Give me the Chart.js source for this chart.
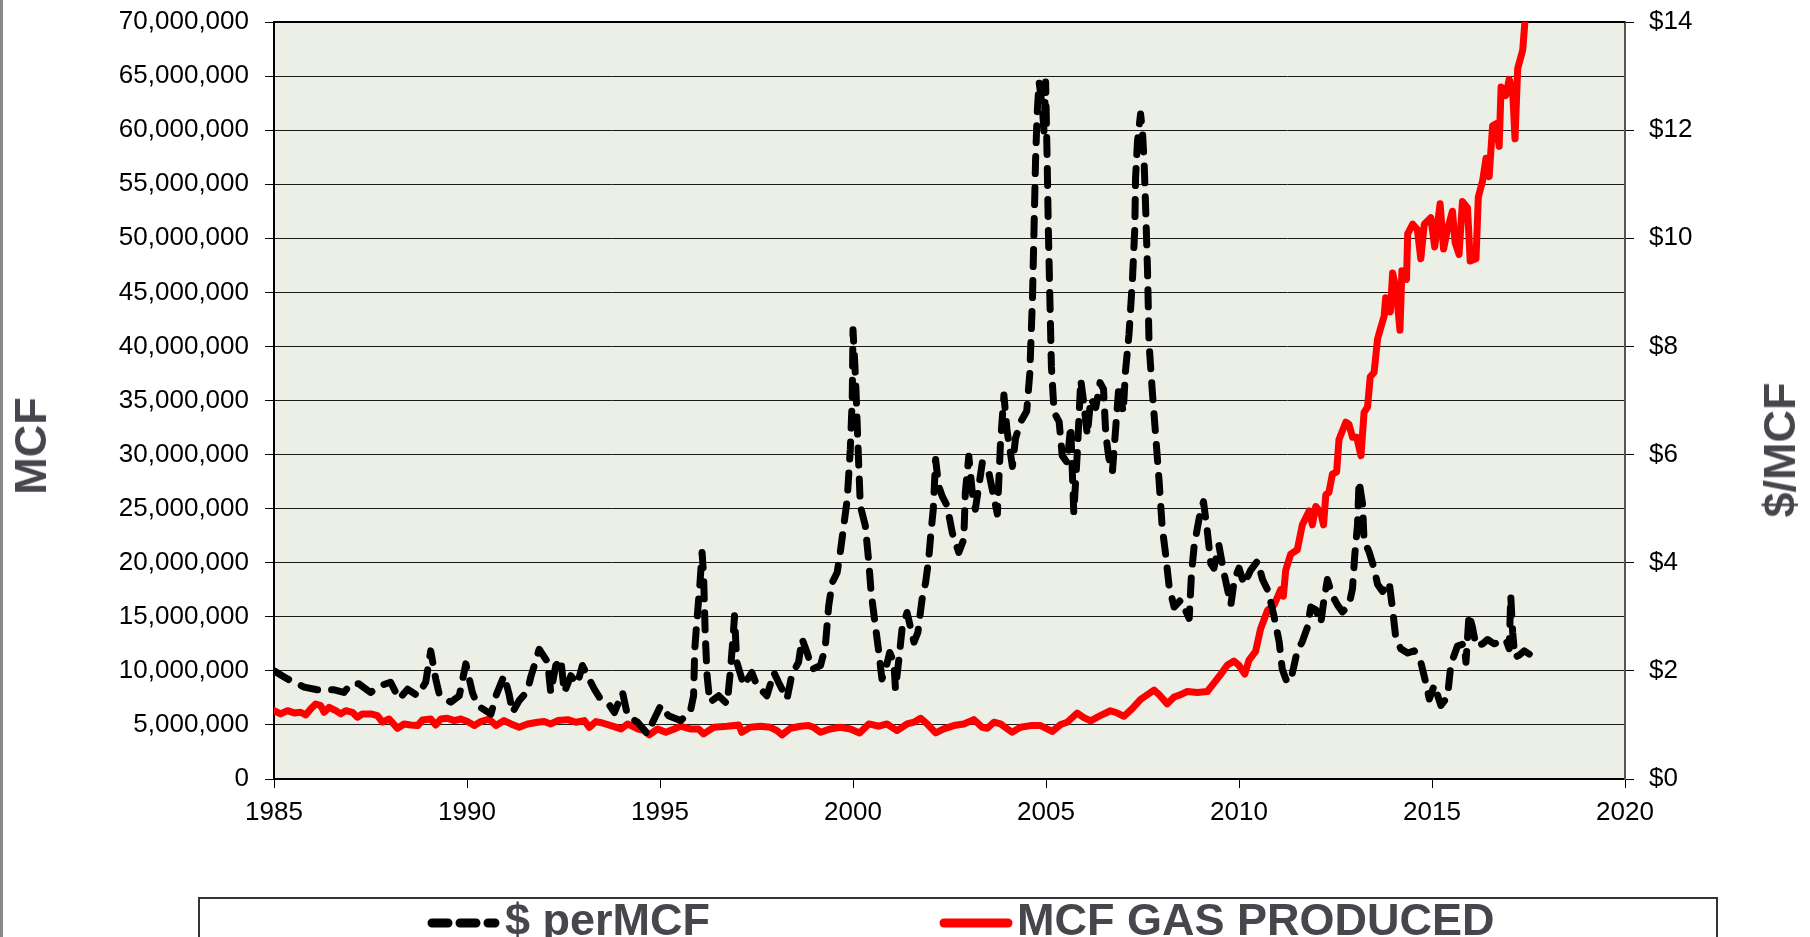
<!DOCTYPE html>
<html lang="en">
<head>
  <meta charset="UTF-8" />
  <title>Gas price vs MCF produced</title>
  <style>
    body {
      margin: 0;
      background: #ffffff;
      font-family: 'Liberation Sans', Arial, sans-serif;
      overflow: hidden;
    }

    .page {
      position: relative;
      width: 1810px;
      height: 937px;
      overflow: hidden;
    }

    .frame-left {
      position: absolute;
      left: 0; top: 0;
      width: 3px; height: 937px;
      background: #8a8a8a;
    }

    .chart-box {
      position: absolute;
      left: 0; top: 0;
      width: 1810px; height: 937px;
    }

    .axis-title {
      position: absolute;
      font-weight: bold;
      font-size: 45px;
      color: #46464c;
      white-space: nowrap;
      transform: translate(-50%, -50%) rotate(-90deg);
    }

    .legend {
      position: absolute;
      left: 198px; top: 897px;
      width: 1516px; height: 80px;
      border: 2px solid #333;
      background: #fff;
    }

    .legend-text {
      position: absolute;
      top: -2px;
      font-weight: bold;
      font-size: 45px;
      line-height: 45px;
      color: #46464c;
      white-space: nowrap;
    }

    .legend svg {
      position: absolute;
      left: 0; top: 0;
    }
  </style>
</head>
<body>
  <div class="page">
    <div class="chart-box"><canvas id="gasChart"></canvas></div>
    <div class="frame-left"></div>
    <div class="axis-title" style="left:31px; top:446px;">MCF</div>
    <div class="axis-title" style="left:1780px; top:450px;">$/MCF</div>
    <div class="legend">
      <svg width="1516" height="60">
        <line x1="232" y1="24" x2="295" y2="24" stroke="#000" stroke-width="9" stroke-linecap="round" stroke-dasharray="16 12" />
        <line x1="744" y1="24" x2="808" y2="24" stroke="#ff0000" stroke-width="9" stroke-linecap="round" />
      </svg>
      <span class="legend-text" style="left:305px;">$ perMCF</span>
      <span class="legend-text" style="left:817px;">MCF GAS PRODUCED</span>
    </div>
  </div>

  <script src="https://cdn.jsdelivr.net/npm/chart.js"></script>
  <script>
    // $ per MCF (right axis)
    const priceYears = [
      1985.0, 1985.35, 1985.78, 1986.12, 1986.56, 1986.81, 1986.99, 1987.2, 1987.5, 1987.77,
      1988.02, 1988.24, 1988.46, 1988.72, 1988.93, 1989.06, 1989.19, 1989.28, 1989.58, 1989.8,
      1989.97, 1990.06, 1990.14, 1990.27, 1990.62, 1990.75, 1990.96, 1991.09, 1991.18, 1991.35,
      1991.57, 1991.65, 1991.87, 1992.09, 1992.17, 1992.3, 1992.43, 1992.52, 1992.69, 1992.86,
      1992.99, 1993.12, 1993.3, 1993.43, 1993.64, 1993.82, 1994.03, 1994.16, 1994.42, 1994.68,
      1994.81, 1995.02, 1995.22, 1995.53, 1995.78, 1995.87, 1995.9, 1995.96, 1996.03, 1996.09,
      1996.13, 1996.17, 1996.22, 1996.29, 1996.52, 1996.74, 1996.82, 1996.89, 1996.93, 1996.99,
      1997.17, 1997.38, 1997.51, 1997.77, 1997.95, 1998.07, 1998.29, 1998.42, 1998.59, 1998.68,
      1998.81, 1998.94, 1999.16, 1999.28, 1999.37, 1999.46, 1999.59, 1999.67, 1999.76, 1999.85,
      1999.93, 1999.98, 2000.0, 2000.05, 2000.08, 2000.12, 2000.19, 2000.32, 2000.41, 2000.47,
      2000.58, 2000.67, 2000.75, 2000.87, 2000.95, 2001.06, 2001.1, 2001.19, 2001.27, 2001.4,
      2001.58, 2001.68, 2001.79, 2001.88, 2001.96, 2002.02, 2002.08, 2002.14, 2002.22, 2002.31,
      2002.44, 2002.57, 2002.74, 2002.87, 2002.91, 2003.0, 2003.09, 2003.17, 2003.35, 2003.52,
      2003.74, 2003.82, 2003.91, 2003.99, 2004.13, 2004.21, 2004.34, 2004.5, 2004.58, 2004.65,
      2004.69, 2004.73, 2004.77, 2004.82, 2004.9, 2004.95, 2004.99, 2005.03, 2005.06, 2005.1,
      2005.14, 2005.21, 2005.34, 2005.42, 2005.55, 2005.64, 2005.72, 2005.81, 2005.9, 2005.98,
      2006.07, 2006.16, 2006.29, 2006.4, 2006.49, 2006.55, 2006.63, 2006.72, 2006.81, 2006.89,
      2007.0, 2007.06, 2007.15, 2007.24, 2007.3, 2007.32, 2007.37, 2007.45, 2007.5, 2007.54,
      2007.58, 2007.63, 2007.67, 2007.75, 2007.84, 2007.93, 2008.01, 2008.1, 2008.19, 2008.32,
      2008.49, 2008.71, 2008.77, 2008.84, 2008.97, 2009.08, 2009.18, 2009.27, 2009.35, 2009.48,
      2009.61, 2009.79, 2009.88, 2010.0, 2010.13, 2010.3, 2010.48, 2010.61, 2010.76, 2010.91,
      2011.04, 2011.12, 2011.25, 2011.38, 2011.51, 2011.64, 2011.77, 2011.86, 2011.99, 2012.12,
      2012.2, 2012.29, 2012.42, 2012.55, 2012.68, 2012.85, 2012.94, 2013.0, 2013.07, 2013.11,
      2013.2, 2013.24, 2013.37, 2013.5, 2013.59, 2013.72, 2013.89, 2013.98, 2014.06, 2014.19,
      2014.37, 2014.54, 2014.71, 2014.84, 2014.93, 2015.06, 2015.23, 2015.4, 2015.49, 2015.66,
      2015.83, 2015.88, 2015.96, 2016.05, 2016.14, 2016.31, 2016.44, 2016.61, 2016.79, 2016.91,
      2017.0, 2017.04, 2017.09, 2017.15, 2017.26, 2017.39, 2017.52
    ];
    const priceValues = [
      2.0, 1.85, 1.7, 1.65, 1.65, 1.6, 1.76, 1.76, 1.6, 1.73,
      1.79, 1.48, 1.66, 1.54, 1.79, 2.37, 1.85, 1.57, 1.42, 1.54,
      2.13, 1.85, 1.6, 1.36, 1.2, 1.54, 1.91, 1.57, 1.23, 1.45,
      1.63, 1.88, 2.4, 2.16, 1.6, 2.1, 2.22, 1.6, 1.91, 1.76,
      2.1, 1.91, 1.66, 1.51, 1.42, 1.23, 1.6, 1.17, 1.05, 0.83,
      1.05, 1.36, 1.17, 1.08, 1.23, 1.54, 2.4, 2.96, 3.57, 4.19,
      3.76, 2.71, 1.91, 1.42, 1.54, 1.39, 1.97, 2.59, 3.02, 2.16,
      1.73, 1.97, 1.73, 1.54, 1.97, 1.79, 1.48, 1.94, 2.16, 2.59,
      2.34, 2.03, 2.1, 2.43, 3.2, 3.63, 3.82, 4.19, 4.68, 5.17,
      6.1, 7.02, 8.31, 7.63, 7.14, 6.34, 5.05, 4.68, 4.0, 3.45,
      2.83, 2.34, 1.85, 2.1, 2.34, 2.16, 1.66, 2.22, 2.77, 3.08,
      2.53, 2.71, 3.33, 3.63, 4.06, 4.56, 4.99, 5.91, 5.42, 5.23,
      5.05, 4.56, 4.19, 4.43, 5.3, 5.97, 5.3, 4.99, 5.85, 5.66,
      4.9, 6.2, 7.1, 6.45, 5.78, 6.3, 6.6, 6.8, 7.5, 8.9,
      10.18, 11.45, 12.3, 12.89, 12.47, 11.96, 12.89, 11.45, 10.18, 8.9,
      7.63, 6.78, 6.61, 5.98, 5.85, 6.53, 4.92, 6.02, 7.38, 6.95,
      6.36, 7.04, 6.87, 7.33, 7.21, 6.36, 5.93, 5.68, 6.53, 7.29,
      6.78, 7.55, 8.22, 9.24, 10.18, 11.11, 11.79, 12.3, 11.96, 11.45,
      10.6, 9.41, 8.05, 7.21, 6.36, 5.51, 4.66, 4.15, 3.56, 3.18,
      3.31, 2.97, 3.81, 4.32, 4.83, 5.13, 4.58, 3.98, 3.9, 4.32,
      3.81, 3.22, 3.69, 3.9, 3.6, 3.86, 4.03, 3.69, 3.47, 3.0,
      2.54, 2.03, 1.78, 1.95, 2.37, 2.54, 2.8, 3.18, 3.13, 2.88,
      3.31, 3.69, 3.39, 3.22, 3.09, 3.22, 3.52, 4.15, 4.7, 5.51,
      5.09, 4.41, 4.2, 3.9, 3.6, 3.47, 3.64, 3.13, 2.62, 2.41,
      2.33, 2.37, 2.16, 1.78, 1.48, 1.74, 1.36, 1.52, 2.12, 2.46,
      2.5, 2.16, 3.05, 2.8, 2.46, 2.5, 2.58, 2.5, 2.54, 2.58,
      2.41, 3.39, 2.71, 2.25, 2.29, 2.37, 2.31
    ];

    // MCF gas produced (left axis), millions
    const gasYears = [
      1985.0, 1985.17, 1985.35, 1985.52, 1985.69, 1985.82, 1985.95, 1986.08, 1986.21, 1986.3,
      1986.43, 1986.6, 1986.73, 1986.86, 1987.03, 1987.16, 1987.29, 1987.51, 1987.68, 1987.81,
      1987.98, 1988.2, 1988.37, 1988.54, 1988.72, 1988.85, 1989.06, 1989.19, 1989.32, 1989.49,
      1989.67, 1989.84, 1990.01, 1990.19, 1990.36, 1990.57, 1990.75, 1990.96, 1991.14, 1991.35,
      1991.57, 1991.83, 1992.0, 1992.17, 1992.35, 1992.61, 1992.82, 1993.04, 1993.17, 1993.34,
      1993.51, 1993.73, 1993.99, 1994.16, 1994.42, 1994.59, 1994.72, 1994.94, 1995.15, 1995.37,
      1995.53, 1995.78, 1996.0, 1996.13, 1996.39, 1996.74, 1997.04, 1997.12, 1997.34, 1997.6,
      1997.86, 1998.03, 1998.16, 1998.38, 1998.64, 1998.85, 1998.98, 1999.16, 1999.41, 1999.67,
      1999.93, 2000.17, 2000.41, 2000.67, 2000.88, 2001.14, 2001.4, 2001.58, 2001.75, 2001.92,
      2002.14, 2002.35, 2002.61, 2002.87, 2003.13, 2003.35, 2003.48, 2003.65, 2003.82, 2004.12,
      2004.34, 2004.6, 2004.86, 2005.16, 2005.38, 2005.55, 2005.81, 2005.98, 2006.16, 2006.42,
      2006.67, 2006.85, 2007.02, 2007.24, 2007.45, 2007.63, 2007.8, 2007.93, 2008.14, 2008.32,
      2008.49, 2008.66, 2008.92, 2009.18, 2009.35, 2009.53, 2009.7, 2009.87, 2010.0, 2010.15,
      2010.26, 2010.43, 2010.56, 2010.74, 2010.91, 2011.08, 2011.15, 2011.21, 2011.34, 2011.51,
      2011.64, 2011.82, 2011.9, 2011.99, 2012.12, 2012.19, 2012.25, 2012.33, 2012.42, 2012.53,
      2012.59, 2012.77, 2012.85, 2012.94, 2013.05, 2013.16, 2013.24, 2013.33, 2013.4, 2013.5,
      2013.59, 2013.67, 2013.76, 2013.8, 2013.92, 2013.98, 2014.07, 2014.17, 2014.22, 2014.34,
      2014.37, 2014.5, 2014.62, 2014.71, 2014.8, 2014.97, 2015.07, 2015.21, 2015.3, 2015.4,
      2015.53, 2015.6, 2015.7, 2015.79, 2015.92, 2015.99, 2016.14, 2016.2, 2016.31, 2016.4,
      2016.48, 2016.57, 2016.66, 2016.74, 2016.79, 2016.91, 2017.0, 2017.09, 2017.15, 2017.22,
      2017.35, 2017.45
    ];
    const gasValues = [
      6.32, 6.02, 6.32, 6.11, 6.17, 5.92, 6.48, 6.94, 6.78, 6.17,
      6.63, 6.32, 6.02, 6.32, 6.17, 5.71, 6.02, 6.02, 5.86, 5.25,
      5.55, 4.69, 5.09, 5.0, 4.94, 5.46, 5.55, 5.0, 5.55, 5.62,
      5.4, 5.55, 5.31, 4.94, 5.31, 5.55, 4.94, 5.4, 5.09, 4.78,
      5.09, 5.25, 5.31, 5.09, 5.4, 5.49, 5.25, 5.4, 4.78, 5.31,
      5.18, 4.94, 4.63, 5.09, 4.63, 4.48, 4.08, 4.63, 4.32, 4.63,
      4.88, 4.63, 4.63, 4.17, 4.78, 4.88, 5.0, 4.32, 4.78, 4.88,
      4.78, 4.48, 4.08, 4.69, 4.88, 4.94, 4.78, 4.32, 4.63, 4.78,
      4.63, 4.26, 5.09, 4.88, 5.09, 4.48, 5.09, 5.25, 5.62, 5.09,
      4.26, 4.63, 4.94, 5.09, 5.49, 4.78, 4.69, 5.25, 5.09, 4.32,
      4.78, 4.94, 4.94, 4.4, 5.04, 5.25, 6.1, 5.68, 5.38, 5.89,
      6.31, 6.1, 5.8, 6.53, 7.37, 7.8, 8.22, 7.8, 6.95, 7.58,
      7.8, 8.09, 8.0, 8.09, 8.86, 9.7, 10.55, 10.9, 10.5, 9.7,
      11.0, 11.8, 13.9, 15.6, 16.1, 17.5, 16.9, 19.3, 20.8, 21.2,
      23.5, 24.8, 23.5, 25.2, 24.6, 23.5, 26.3, 26.5, 28.2, 28.4,
      31.4, 33.0, 32.8, 31.6, 31.6, 29.9, 33.9, 34.4, 37.2, 37.6,
      40.7, 41.7, 42.8, 44.5, 43.2, 46.8, 45.3, 41.5, 47.0, 46.2,
      50.4, 51.3, 50.8, 48.1, 51.3, 51.9, 49.2, 53.2, 49.0, 50.8,
      52.5, 49.6, 48.5, 53.4, 52.8, 47.9, 48.1, 53.8, 55.3, 57.4,
      55.7, 60.4, 60.6, 58.5, 64.0, 63.2, 64.7, 63.6, 59.2, 65.7,
      67.4, 72.0
    ];

    const yearTicks = [1985, 1990, 1995, 2000, 2005, 2010, 2015, 2020];
    const tickFont = { family: "'Liberation Sans', Arial, sans-serif", size: 26 };

    // Fill plot area and draw the top frame line
    const plotFrame = {
      id: 'plotFrame',
      beforeDraw(chart) {
        const { ctx, chartArea: a } = chart;
        ctx.save();
        ctx.fillStyle = '#ECEFE6';
        ctx.fillRect(a.left, a.top, a.right - a.left, a.bottom - a.top);
        ctx.restore();
      },
      beforeDatasetsDraw(chart) {
        const { ctx, chartArea: a } = chart;
        ctx.save();
        ctx.strokeStyle = '#000';
        ctx.lineWidth = 2;
        ctx.beginPath();
        ctx.moveTo(a.left, a.top);
        ctx.lineTo(a.right, a.top);
        ctx.stroke();
        ctx.restore();
      }
    };

    // fixed axis boxes so the plot area lands where the original has it
    const fixVertical = w => s => {
      s.width = w;
      s.paddingTop = 0;
      s.paddingBottom = 0;
    };

    const ctx = document.getElementById('gasChart').getContext('2d');
    new Chart(ctx, {
      type: 'line',
      data: {
        datasets: [
          {
            label: '$ perMCF',
            data: priceYears.map((x, i) => ({ x, y: priceValues[i] })),
            yAxisID: 'y2',
            borderColor: '#000000',
            borderWidth: 7,
            borderDash: [17, 14],
            borderCapStyle: 'round',
            borderJoinStyle: 'round',
            pointRadius: 0,
            tension: 0,
            fill: false
          },
          {
            label: 'MCF GAS PRODUCED',
            data: gasYears.map((x, i) => ({ x, y: gasValues[i] * 1000000 })),
            yAxisID: 'y',
            borderColor: '#FF0000',
            borderWidth: 7,
            borderCapStyle: 'round',
            borderJoinStyle: 'round',
            pointRadius: 0,
            tension: 0,
            fill: false
          }
        ]
      },
      options: {
        responsive: true,
        maintainAspectRatio: false,
        animation: false,
        layout: { padding: { top: 22, left: 0, right: 0, bottom: 0 } },
        plugins: {
          legend: { display: false },
          tooltip: { enabled: false }
        },
        scales: {
          x: {
            type: 'linear',
            position: 'bottom',
            min: 1985,
            max: 2020,
            afterBuildTicks: s => { s.ticks = yearTicks.map(v => ({ value: v })); },
            afterFit: s => { s.height = 158; s.paddingLeft = 0; s.paddingRight = 0; },
            grid: { drawOnChartArea: false, drawTicks: true, tickLength: 9, tickColor: '#000' },
            border: { color: '#000', width: 2 },
            ticks: { font: tickFont, color: '#000', padding: 9, maxRotation: 0, callback: v => String(v) }
          },
          y: {
            position: 'left',
            min: 0,
            max: 70000000,
            afterFit: fixVertical(274),
            grid: { color: '#1a1a1a', lineWidth: 1, tickLength: 9, tickColor: '#000' },
            border: { color: '#000', width: 2 },
            ticks: {
              stepSize: 5000000,
              font: tickFont,
              color: '#000',
              padding: 16,
              callback: v => v.toLocaleString('en-US')
            }
          },
          y2: {
            position: 'right',
            min: 0,
            max: 14,
            afterFit: fixVertical(185),
            grid: { drawOnChartArea: false, tickLength: 9, tickColor: '#000' },
            border: { color: '#555', width: 2 },
            ticks: {
              stepSize: 2,
              font: tickFont,
              color: '#000',
              padding: 15,
              callback: v => '$' + v
            }
          }
        }
      },
      plugins: [plotFrame]
    });
  </script>
</body>
</html>
